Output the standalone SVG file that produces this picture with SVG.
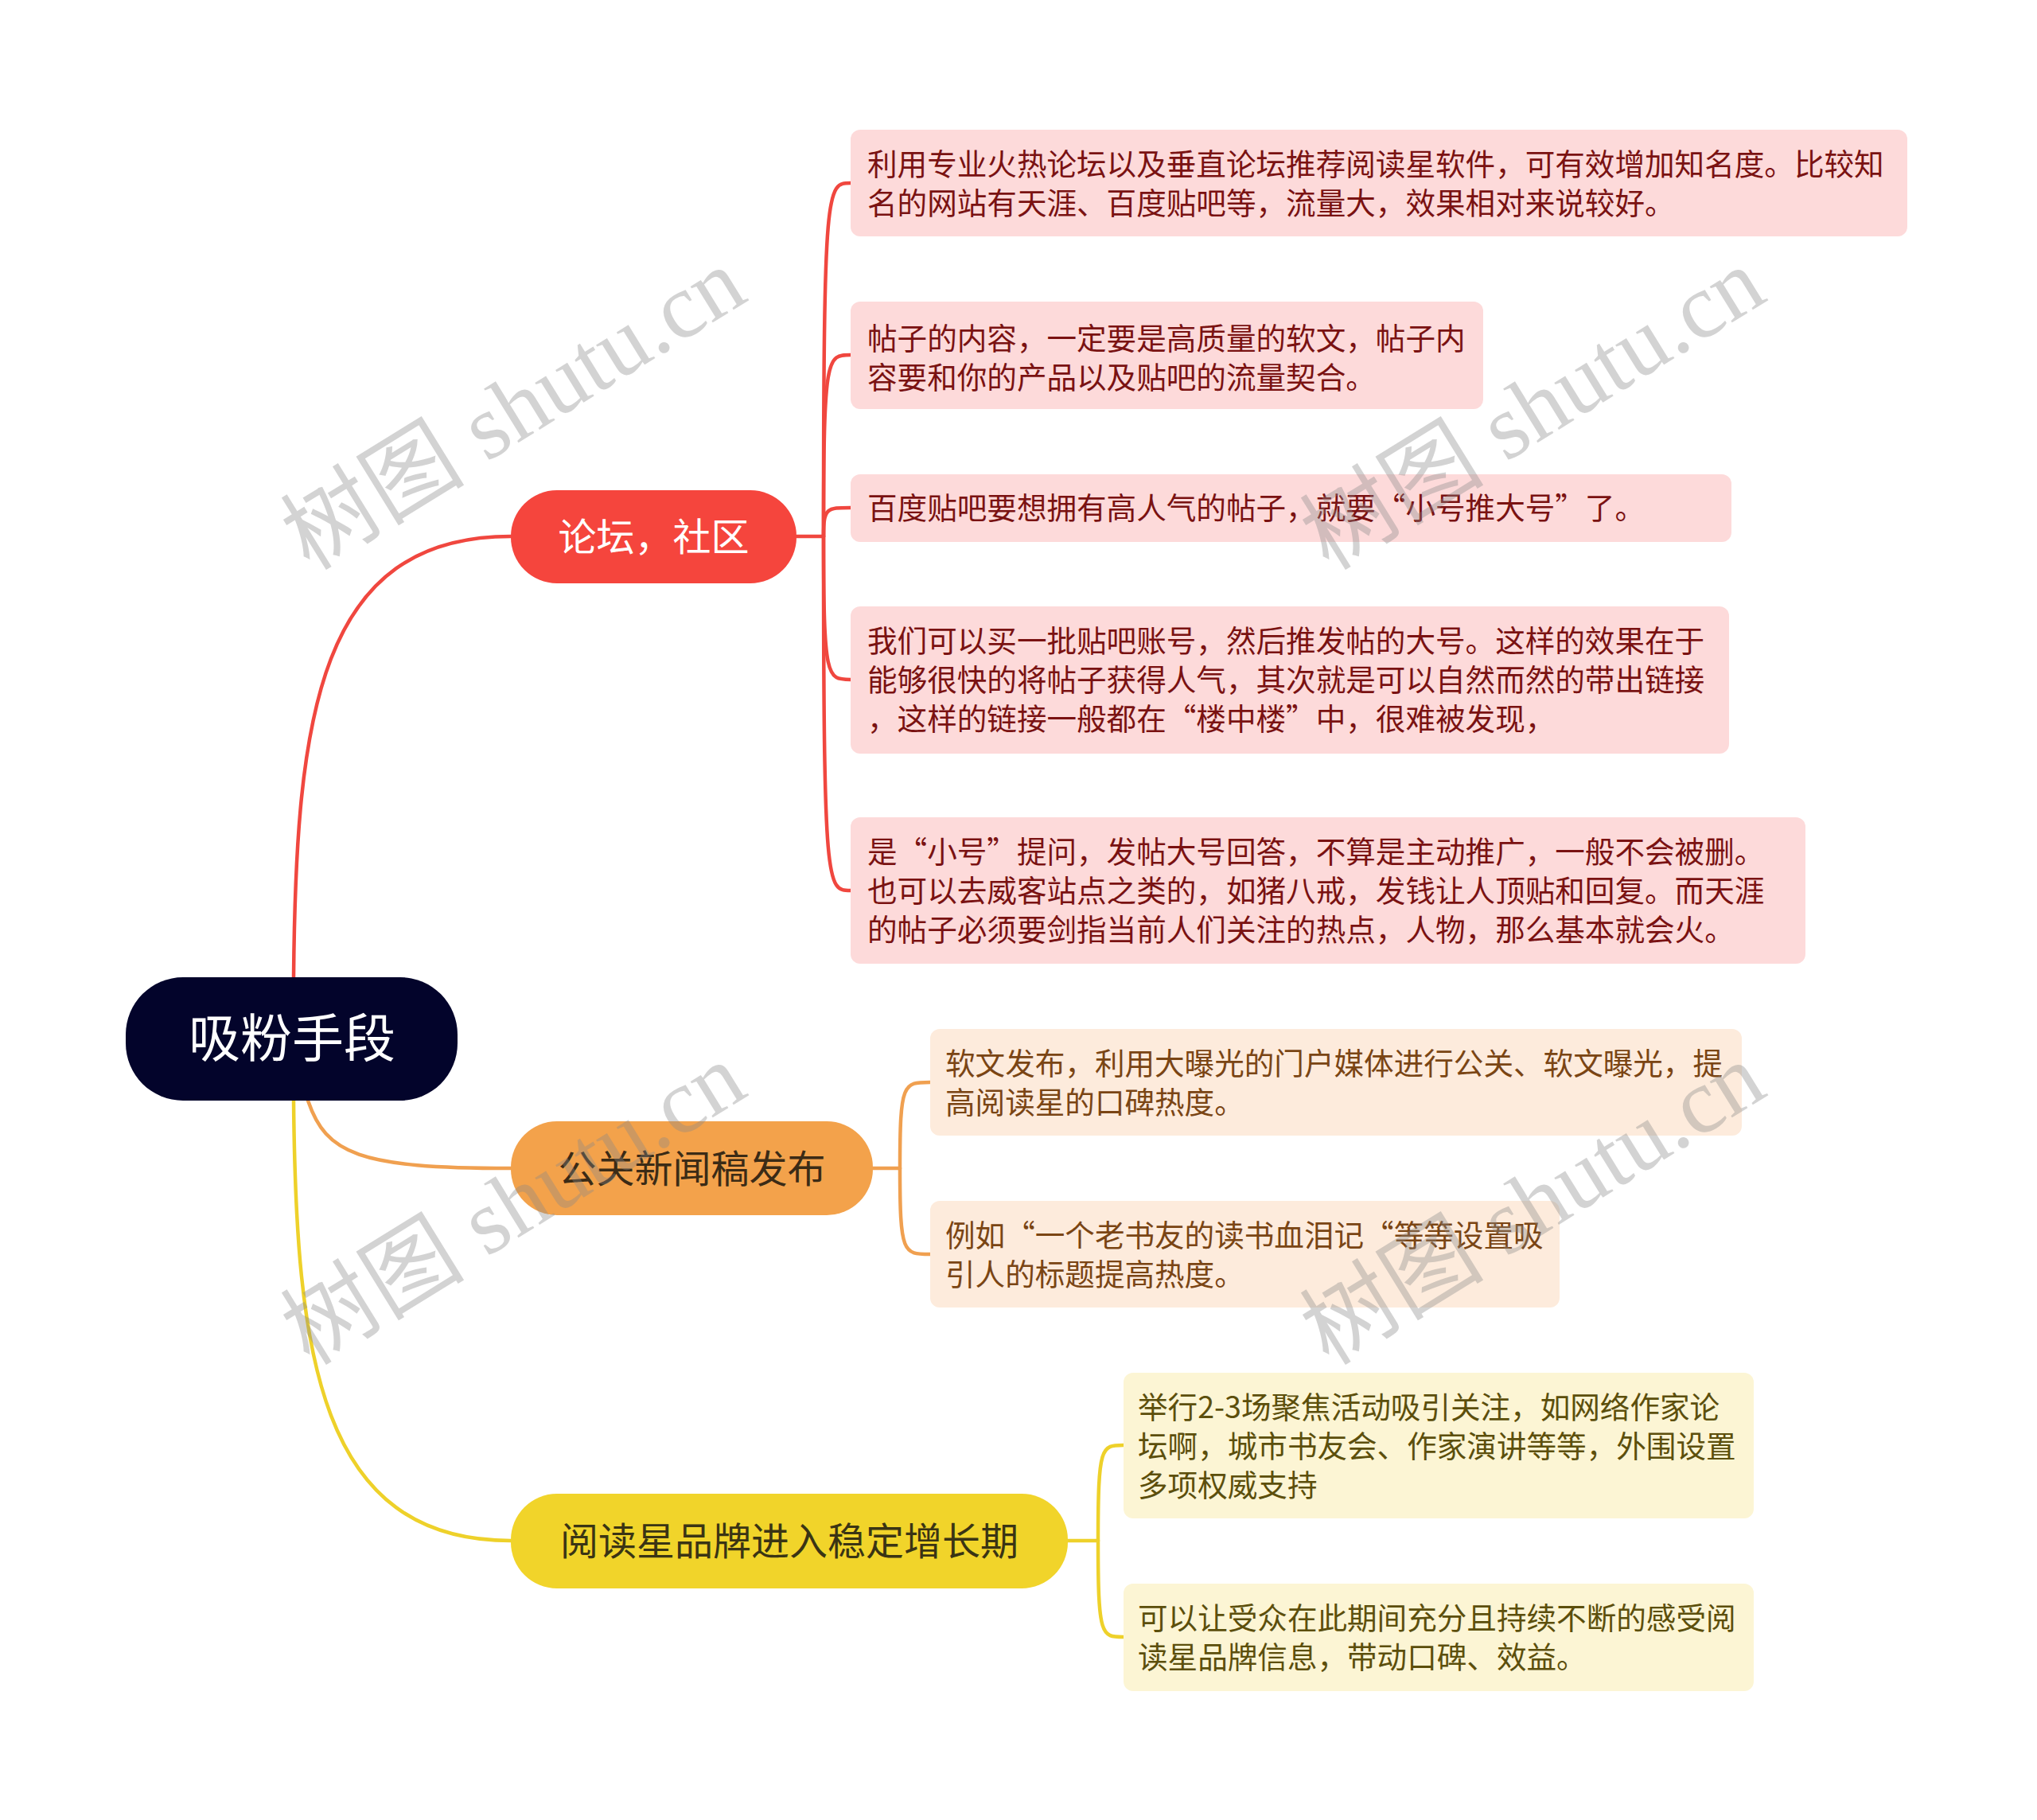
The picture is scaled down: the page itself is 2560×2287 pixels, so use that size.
<svg xmlns="http://www.w3.org/2000/svg" width="2560" height="2287" viewBox="0 0 2560 2287">
<style>
text{font-family:"Noto Sans CJK SC","Noto Sans",sans-serif;}
.root{fill:#03042b;}
.rtxt{fill:#ffffff;font-size:65px;text-anchor:middle;}
.btxt{font-size:48px;text-anchor:middle;}
.ltxt{font-size:37.6px;}
.b1{fill:#f5453d;}
.b2{fill:#f3a24b;}
.b3{fill:#f1d42a;}
.l1{fill:#fddada;}
.l2{fill:#fdebdc;}
.l3{fill:#fcf5d4;}
.t1{fill:#7a1212;}
.t2{fill:#7a4514;}
.t3{fill:#5c4f0c;}
.c{fill:none;stroke-width:4.5;stroke-linecap:round;}
.cr{stroke:#f0473f;}
.co{stroke:#f0a050;}
.cy{stroke:#eed12a;}
.wm{font-family:"Liberation Serif","Noto Sans CJK SC",serif;font-size:116px;fill:#888888;opacity:0.36;text-anchor:middle;}
</style>
<rect width="2560" height="2287" fill="#ffffff"/>
<g id="connectors">
<path class="c cr" d="M369 1228 C372 900 400 674 642 674"/>
<path class="c co" d="M387 1383 C410 1450 450 1468 642 1468"/>
<path class="c cy" d="M369 1383 C372 1700 400 1936 642 1936"/>
<path class="c cr" d="M1001 674 L1035 674"/>
<path class="c cr" d="M1035 674 C1035 230 1039 230 1069 230"/>
<path class="c cr" d="M1035 674 C1035 446 1039 446 1069 446"/>
<path class="c cr" d="M1035 674 C1035 638 1039 638 1069 638"/>
<path class="c cr" d="M1035 674 C1035 854 1039 854 1069 854"/>
<path class="c cr" d="M1035 674 C1035 1119 1039 1119 1069 1119"/>
<path class="c co" d="M1097 1468 L1131 1468"/>
<path class="c co" d="M1131 1468 C1131 1360 1135 1360 1169 1360"/>
<path class="c co" d="M1131 1468 C1131 1576 1135 1576 1169 1576"/>
<path class="c cy" d="M1342 1936 L1380 1936"/>
<path class="c cy" d="M1380 1936 C1380 1816 1384 1816 1412 1816"/>
<path class="c cy" d="M1380 1936 C1380 2057 1384 2057 1412 2057"/>
</g>
<g id="root">
<rect class="root" x="158" y="1228" width="417" height="155" rx="72"/>
<text class="rtxt" x="367" y="1328">吸粉手段</text>
</g>
<g id="branch1">
<rect class="b1" x="642" y="616" width="359" height="117" rx="58"/>
<text class="btxt" x="821.5" y="692" fill="#ffffff">论坛，社区</text>
</g>
<g id="branch2">
<rect class="b2" x="642" y="1409" width="455" height="118" rx="58"/>
<text class="btxt" x="869.5" y="1486" fill="#3b2b16">公关新闻稿发布</text>
</g>
<g id="branch3">
<rect class="b3" x="642" y="1877" width="700" height="119" rx="58"/>
<text class="btxt" x="992" y="1954" fill="#3a3414">阅读星品牌进入稳定增长期</text>
</g>
<g id="leaf1">
<rect class="l1" x="1069" y="163" width="1328" height="134" rx="12"/>
<text class="ltxt t1" x="1090" y="220">利用专业火热论坛以及垂直论坛推荐阅读星软件，可有效增加知名度。比较知</text>
<text class="ltxt t1" x="1090" y="269">名的网站有天涯、百度贴吧等，流量大，效果相对来说较好。</text>
</g>
<g id="leaf2">
<rect class="l1" x="1069" y="379" width="795" height="135" rx="12"/>
<text class="ltxt t1" x="1090" y="439">帖子的内容，一定要是高质量的软文，帖子内</text>
<text class="ltxt t1" x="1090" y="488">容要和你的产品以及贴吧的流量契合。</text>
</g>
<g id="leaf3">
<rect class="l1" x="1069" y="596" width="1107" height="85" rx="12"/>
<text class="ltxt t1" x="1090" y="652">百度贴吧要想拥有高人气的帖子，就要“小号推大号”了。</text>
</g>
<g id="leaf4">
<rect class="l1" x="1069" y="762" width="1104" height="185" rx="12"/>
<text class="ltxt t1" x="1090" y="819">我们可以买一批贴吧账号，然后推发帖的大号。这样的效果在于</text>
<text class="ltxt t1" x="1090" y="868">能够很快的将帖子获得人气，其次就是可以自然而然的带出链接</text>
<text class="ltxt t1" x="1090" y="917">，这样的链接一般都在“楼中楼”中，很难被发现，</text>
</g>
<g id="leaf5">
<rect class="l1" x="1069" y="1027" width="1200" height="184" rx="12"/>
<text class="ltxt t1" x="1090" y="1084">是“小号”提问，发帖大号回答，不算是主动推广，一般不会被删。</text>
<text class="ltxt t1" x="1090" y="1133">也可以去威客站点之类的，如猪八戒，发钱让人顶贴和回复。而天涯</text>
<text class="ltxt t1" x="1090" y="1182">的帖子必须要剑指当前人们关注的热点，人物，那么基本就会火。</text>
</g>
<g id="leaf6">
<rect class="l2" x="1169" y="1293" width="1020" height="134" rx="12"/>
<text class="ltxt t2" x="1188" y="1350">软文发布，利用大曝光的门户媒体进行公关、软文曝光，提</text>
<text class="ltxt t2" x="1188" y="1399">高阅读星的口碑热度。</text>
</g>
<g id="leaf7">
<rect class="l2" x="1169" y="1509" width="791" height="134" rx="12"/>
<text class="ltxt t2" x="1188" y="1566">例如“一个老书友的读书血泪记“等等设置吸</text>
<text class="ltxt t2" x="1188" y="1615">引人的标题提高热度。</text>
</g>
<g id="leaf8">
<rect class="l3" x="1412" y="1725" width="792" height="183" rx="12"/>
<text class="ltxt t3" x="1430" y="1782">举行2-3场聚焦活动吸引关注，如网络作家论</text>
<text class="ltxt t3" x="1430" y="1831">坛啊，城市书友会、作家演讲等等，外围设置</text>
<text class="ltxt t3" x="1430" y="1880">多项权威支持</text>
</g>
<g id="leaf9">
<rect class="l3" x="1412" y="1990" width="792" height="135" rx="12"/>
<text class="ltxt t3" x="1430" y="2047">可以让受众在此期间充分且持续不断的感受阅</text>
<text class="ltxt t3" x="1430" y="2096">读星品牌信息，带动口碑、效益。</text>
</g>
<g id="watermarks">
<text class="wm" transform="translate(646 515) rotate(-31.7)" y="38">树图 shutu.cn</text>
<text class="wm" transform="translate(1927 515) rotate(-31.7)" y="38">树图 shutu.cn</text>
<text class="wm" transform="translate(646 1514) rotate(-31.7)" y="38">树图 shutu.cn</text>
<text class="wm" transform="translate(1927 1514) rotate(-31.7)" y="38">树图 shutu.cn</text>
</g>
</svg>
